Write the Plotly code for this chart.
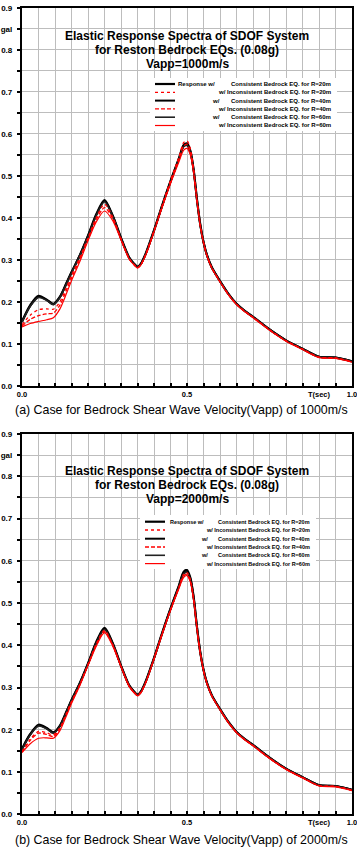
import plotly.graph_objects as go

W, H = 357, 855

# ---------------- data ----------------
T = [0, 0.025, 0.05, 0.075, 0.095, 0.115, 0.135, 0.15, 0.175, 0.2, 0.225, 0.25, 0.275,
     0.3, 0.325, 0.34, 0.35, 0.36, 0.375,
     0.4, 0.425, 0.45, 0.475,
     0.49, 0.5, 0.51, 0.52, 0.53, 0.54, 0.55, 0.56,
     0.575, 0.6, 0.625, 0.65, 0.675, 0.7, 0.75, 0.8, 0.85, 0.9, 0.95, 1.0]

# (a) Vapp = 1000 m/s
A_c20 = [0.153, 0.192, 0.214, 0.205, 0.195, 0.212, 0.245, 0.27, 0.31, 0.357, 0.408, 0.442, 0.405,
         0.352, 0.305, 0.29, 0.283, 0.29, 0.315,
         0.37, 0.43, 0.487, 0.54,
         0.573, 0.577, 0.56, 0.515, 0.445, 0.385, 0.342, 0.312,
         0.282, 0.249, 0.219, 0.195, 0.178, 0.164, 0.134, 0.108, 0.088, 0.069, 0.067, 0.058]
A_c40 = [0.152, 0.19, 0.212, 0.204, 0.194, 0.211, 0.244, 0.27, 0.31, 0.356, 0.406, 0.44, 0.404,
         0.351, 0.304, 0.29, 0.283, 0.29, 0.314,
         0.369, 0.429, 0.486, 0.539,
         0.571, 0.575, 0.558, 0.514, 0.444, 0.384, 0.342, 0.312,
         0.282, 0.249, 0.219, 0.195, 0.178, 0.164, 0.134, 0.108, 0.088, 0.069, 0.067, 0.058]
A_c60 = [0.151, 0.189, 0.21, 0.203, 0.193, 0.21, 0.243, 0.269, 0.309, 0.355, 0.405, 0.438, 0.403,
         0.351, 0.304, 0.289, 0.282, 0.289, 0.314,
         0.369, 0.428, 0.485, 0.538,
         0.569, 0.572, 0.556, 0.512, 0.443, 0.383, 0.341, 0.311,
         0.281, 0.249, 0.219, 0.195, 0.178, 0.164, 0.134, 0.108, 0.088, 0.069, 0.067, 0.058]
A_i20 = [0.145, 0.168, 0.181, 0.183, 0.182, 0.2, 0.235, 0.262, 0.305, 0.352, 0.4, 0.432, 0.401,
         0.35, 0.303, 0.288, 0.281, 0.288, 0.313,
         0.369, 0.43, 0.489, 0.543,
         0.579, 0.583, 0.565, 0.518, 0.446, 0.385, 0.342, 0.311,
         0.281, 0.248, 0.218, 0.194, 0.177, 0.163, 0.133, 0.107, 0.087, 0.068, 0.066, 0.057]
A_i40 = [0.142, 0.158, 0.167, 0.171, 0.173, 0.192, 0.228, 0.256, 0.3, 0.348, 0.395, 0.424, 0.398,
         0.349, 0.302, 0.288, 0.281, 0.288, 0.312,
         0.368, 0.428, 0.485, 0.538,
         0.571, 0.575, 0.557, 0.512, 0.442, 0.383, 0.341, 0.311,
         0.281, 0.248, 0.218, 0.194, 0.177, 0.163, 0.133, 0.107, 0.087, 0.068, 0.066, 0.057]
A_i60 = [0.14, 0.148, 0.153, 0.157, 0.162, 0.183, 0.22, 0.25, 0.295, 0.345, 0.39, 0.416, 0.393,
         0.347, 0.301, 0.287, 0.28, 0.287, 0.311,
         0.366, 0.425, 0.481, 0.532,
         0.561, 0.565, 0.55, 0.507, 0.44, 0.381, 0.34, 0.31,
         0.28, 0.247, 0.217, 0.193, 0.176, 0.162, 0.132, 0.106, 0.086, 0.067, 0.065, 0.056]

# (b) Vapp = 2000 m/s
B_c20 = [0.155, 0.19, 0.212, 0.204, 0.194, 0.21, 0.244, 0.27, 0.31, 0.357, 0.408, 0.441, 0.405,
         0.352, 0.305, 0.29, 0.283, 0.29, 0.315,
         0.37, 0.43, 0.487, 0.54,
         0.574, 0.578, 0.56, 0.515, 0.445, 0.385, 0.342, 0.312,
         0.282, 0.249, 0.219, 0.195, 0.178, 0.164, 0.134, 0.108, 0.088, 0.069, 0.067, 0.058]
B_c40 = [0.154, 0.189, 0.21, 0.203, 0.193, 0.209, 0.243, 0.27, 0.31, 0.356, 0.406, 0.439, 0.404,
         0.351, 0.304, 0.29, 0.283, 0.29, 0.314,
         0.369, 0.429, 0.486, 0.539,
         0.571, 0.575, 0.558, 0.514, 0.444, 0.384, 0.342, 0.312,
         0.282, 0.249, 0.219, 0.195, 0.178, 0.164, 0.134, 0.108, 0.088, 0.069, 0.067, 0.058]
B_c60 = [0.153, 0.188, 0.209, 0.202, 0.192, 0.208, 0.242, 0.269, 0.309, 0.355, 0.405, 0.437, 0.403,
         0.351, 0.304, 0.289, 0.282, 0.289, 0.314,
         0.369, 0.428, 0.485, 0.538,
         0.569, 0.573, 0.556, 0.512, 0.443, 0.383, 0.341, 0.311,
         0.281, 0.249, 0.219, 0.195, 0.178, 0.164, 0.134, 0.108, 0.088, 0.069, 0.067, 0.058]
B_i20 = [0.148, 0.178, 0.196, 0.193, 0.188, 0.205, 0.24, 0.267, 0.307, 0.355, 0.403, 0.435, 0.402,
         0.351, 0.304, 0.289, 0.282, 0.289, 0.313,
         0.369, 0.429, 0.485, 0.537,
         0.568, 0.572, 0.556, 0.512, 0.443, 0.383, 0.341, 0.311,
         0.281, 0.248, 0.218, 0.194, 0.177, 0.163, 0.133, 0.107, 0.087, 0.068, 0.066, 0.057]
B_i40 = [0.147, 0.175, 0.192, 0.189, 0.184, 0.202, 0.238, 0.265, 0.306, 0.354, 0.4, 0.432, 0.4,
         0.35, 0.303, 0.288, 0.281, 0.288, 0.312,
         0.368, 0.428, 0.484, 0.535,
         0.564, 0.568, 0.553, 0.51, 0.442, 0.382, 0.341, 0.311,
         0.281, 0.248, 0.218, 0.194, 0.177, 0.163, 0.133, 0.107, 0.087, 0.068, 0.066, 0.057]
B_i60 = [0.146, 0.167, 0.18, 0.181, 0.18, 0.198, 0.234, 0.262, 0.304, 0.352, 0.398, 0.43, 0.398,
         0.349, 0.302, 0.287, 0.28, 0.287, 0.311,
         0.367, 0.426, 0.482, 0.533,
         0.561, 0.565, 0.55, 0.507, 0.44, 0.381, 0.34, 0.31,
         0.28, 0.247, 0.217, 0.193, 0.176, 0.162, 0.132, 0.106, 0.086, 0.067, 0.065, 0.056]

SERIES_NAMES = ["Consistent R=20m", "Inconsistent R=20m", "Consistent R=40m",
                "Inconsistent R=40m", "Consistent R=60m", "Inconsistent R=60m"]
LEGEND_BODY = ["Consistent Bedrock EQ. for R=20m",
               "w/ Inconsistent Bedrock EQ. for R=20m",
               "Consistent Bedrock EQ. for R=40m",
               "w/ Inconsistent Bedrock EQ. for R=40m",
               "Consistent Bedrock EQ. for R=60m",
               "w/ Inconsistent Bedrock EQ. for R=60m"]

X_TICKS = [0, 0.05, 0.1, 0.15, 0.2, 0.25, 0.3, 0.35, 0.4, 0.45, 0.5,
           0.55, 0.6, 0.65, 0.7, 0.75, 0.8, 0.85, 0.9, 0.95, 1.0]
X_TEXT = ["0.0", "", "", "", "", "", "", "", "", "", "0.5",
          "", "", "", "", "", "", "", "T(sec)", "", "1.0"]
Y_TICKS = [0, 0.05, 0.1, 0.15, 0.2, 0.25, 0.3, 0.35, 0.4, 0.45,
           0.5, 0.55, 0.6, 0.65, 0.7, 0.75, 0.8, 0.85, 0.9]
Y_TEXT = ["0.0", "", "0.1", "", "0.2", "", "0.3", "", "0.4", "",
          "0.5", "", "0.6", "", "0.7", "", "0.8", "gal", "0.9"]

TITLE_A = ["Elastic Response Spectra of SDOF System",
           "for Reston Bedrock EQs. (0.08g)", "Vapp=1000m/s"]
TITLE_B = ["Elastic Response Spectra of SDOF System",
           "for Reston Bedrock EQs. (0.08g)", "Vapp=2000m/s"]
CAP_A = "(a) Case for Bedrock Shear Wave Velocity(Vapp) of 1000m/s"
CAP_B = "(b) Case for Bedrock Shear Wave Velocity(Vapp) of 2000m/s"

# ---------------- styling ----------------
FONT = "Liberation Sans, Arial, sans-serif"
GRID = "#bdbdbd"
STYLES = [
    dict(color="#000000", width=2.2, dash="solid"),
    dict(color="#ff0000", width=1.3, dash="dot"),
    dict(color="#000000", width=2.0, dash="solid"),
    dict(color="#ff0000", width=1.3, dash="4px,2px"),
    dict(color="#222222", width=1.6, dash="solid"),
    dict(color="#ff0000", width=1.2, dash="solid"),
]
DRAW_ORDER = [0, 2, 4, 1, 3, 5]


def fx(p):
    return p / W


def fy(p):
    return 1 - p / H


fig = go.Figure()
panels = [
    ("x", "y", [A_c20, A_i20, A_c40, A_i40, A_c60, A_i60]),
    ("x2", "y2", [B_c20, B_i20, B_c40, B_i40, B_c60, B_i60]),
]
for xa, ya, data in panels:
    for k in DRAW_ORDER:
        fig.add_trace(go.Scatter(
            x=T, y=data[k], mode="lines", name=SERIES_NAMES[k],
            line=dict(shape="spline", smoothing=0.8, **STYLES[k]),
            xaxis=xa, yaxis=ya, showlegend=False, hoverinfo="skip"))

xcommon = dict(range=[0, 1], tickmode="array", tickvals=X_TICKS, ticktext=X_TEXT,
               showgrid=True, gridcolor=GRID, gridwidth=1.4, layer="below traces",
               showline=True, linecolor="black", linewidth=2.2, mirror=True,
               ticks="inside", ticklen=3, tickwidth=1.5, tickcolor="black",
               tickfont=dict(family=FONT, size=7.5, color="black", weight="bold"),
               ticklabeloverflow="allow",
               zeroline=False, automargin=False, fixedrange=True, tickangle=0)
ycommon = dict(range=[0, 0.9], tickmode="array", tickvals=Y_TICKS, ticktext=Y_TEXT,
               showgrid=True, gridcolor=GRID, gridwidth=1.4, layer="below traces",
               showline=True, linecolor="black", linewidth=2.2, mirror=True,
               ticks="outside", ticklen=3, tickwidth=1.5, tickcolor="black",
               tickfont=dict(family=FONT, size=8, color="black", weight="bold"),
               ticklabelstandoff=3, ticklabeloverflow="allow",
               zeroline=False, automargin=False, fixedrange=True)

xdom = [fx(22), fx(352)]
fig.update_layout(
    template="none",
    width=W, height=H,
    margin=dict(l=0, r=0, t=0, b=0),
    paper_bgcolor="white", plot_bgcolor="white",
    showlegend=False,
    xaxis=dict(domain=xdom, anchor="y", **xcommon),
    yaxis=dict(domain=[fy(385.7), fy(7.7)], anchor="x", **ycommon),
    xaxis2=dict(domain=xdom, anchor="y2", **xcommon),
    yaxis2=dict(domain=[fy(814.3), fy(434)], anchor="x2", **ycommon),
)

annotations = []
shapes = []

# titles
for lines, ys in [(TITLE_A, [36, 50, 64]), (TITLE_B, [471, 485, 499])]:
    for txt, yy in zip(lines, ys):
        annotations.append(dict(text="<b>%s</b>" % txt, x=fx(187), y=fy(yy),
                                xref="paper", yref="paper", xanchor="center",
                                yanchor="middle", showarrow=False,
                                font=dict(family=FONT, size=12, color="black")))

# captions
for txt, yy in [(CAP_A, 410), (CAP_B, 840)]:
    annotations.append(dict(text=txt, x=fx(181), y=fy(yy), xref="paper", yref="paper",
                            xanchor="center", yanchor="middle", showarrow=False,
                            font=dict(family=FONT, size=12.4, color="black")))

# legends (white box, sample lines, text)
legends = [
    dict(rows=[84, 92.3, 100.6, 108.9, 117.2, 125.5], s0=155, s1=175,
         wx=210, rx=333, fs=6.0, box=(150, 78, 337, 131)),
    dict(rows=[521.7, 530, 538.7, 547, 555.3, 563.6], s0=145, s1=165,
         wx=199, rx=312, fs=5.5, box=(140, 515, 316, 569)),
]
for lg in legends:
    bx0, by0, bx1, by1 = lg["box"]
    shapes.append(dict(type="rect", xref="paper", yref="paper", layer="above",
                       x0=fx(bx0), x1=fx(bx1), y0=fy(by1), y1=fy(by0),
                       fillcolor="white", line=dict(width=0)))
    for k, yy in enumerate(lg["rows"]):
        st = STYLES[k]
        shapes.append(dict(type="line", xref="paper", yref="paper", layer="above",
                           x0=fx(lg["s0"]), x1=fx(lg["s1"]), y0=fy(yy), y1=fy(yy),
                           line=dict(color=st["color"], width=st["width"], dash=st["dash"])))
        f = dict(family=FONT, size=lg["fs"], color="black")
        annotations.append(dict(text="<b>%s</b>" % LEGEND_BODY[k], x=fx(lg["rx"]), y=fy(yy),
                                xref="paper", yref="paper", xanchor="right",
                                yanchor="middle", showarrow=False, font=f))
        if k == 0:
            annotations.append(dict(text="<b>Response w/</b>", x=fx(lg["wx"] + 7), y=fy(yy),
                                    xref="paper", yref="paper", xanchor="right",
                                    yanchor="middle", showarrow=False, font=f))
        elif k % 2 == 0:
            annotations.append(dict(text="<b>w/</b>", x=fx(lg["wx"]), y=fy(yy),
                                    xref="paper", yref="paper", xanchor="left",
                                    yanchor="middle", showarrow=False, font=f))

fig.update_layout(annotations=annotations, shapes=shapes)
fig.write_html("out.html")
